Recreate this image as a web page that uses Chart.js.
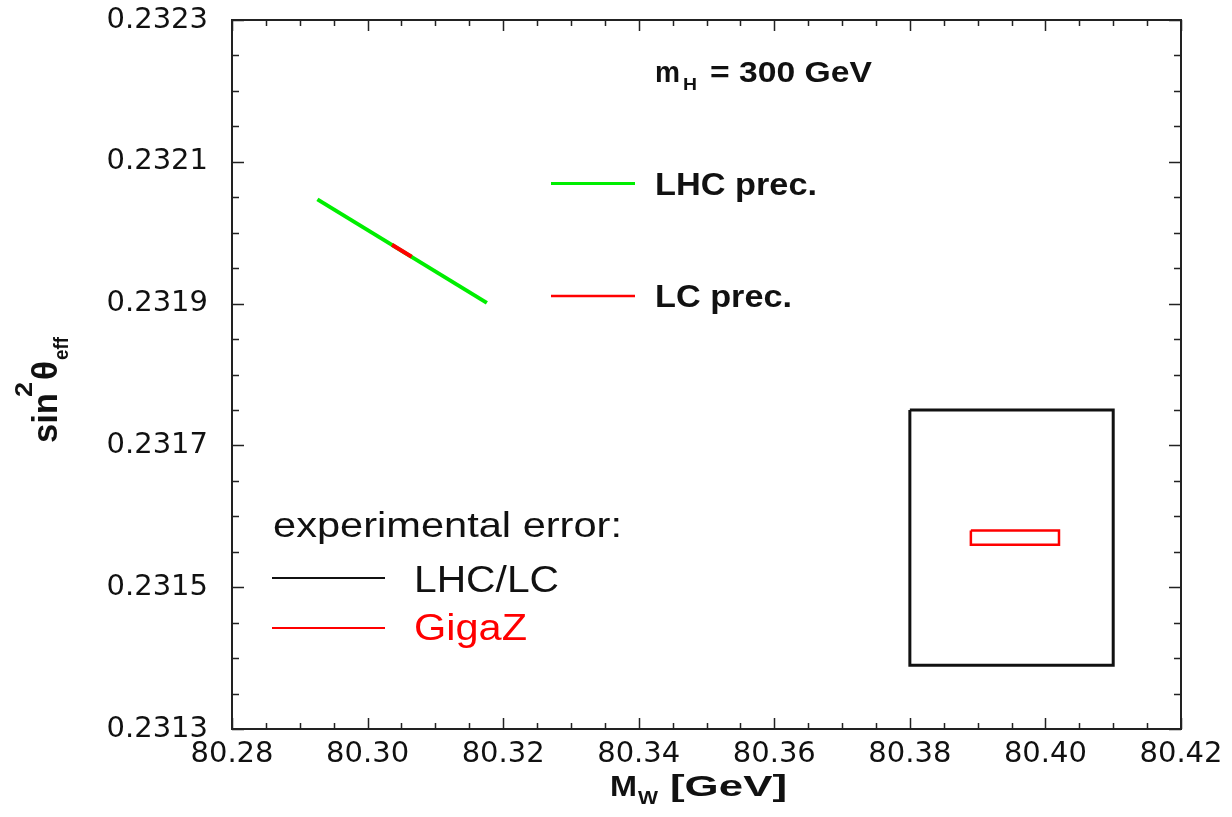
<!DOCTYPE html>
<html>
<head>
<meta charset="utf-8">
<script src="https://cdn.jsdelivr.net/npm/chart.js@4.4.1/dist/chart.umd.min.js"></script>
<style>
  html, body { margin: 0; padding: 0; background: #fff; }
  #wrap { width: 1232px; height: 817px; position: relative; }
</style>
</head>
<body>
<div id="wrap"><canvas id="ewChart"></canvas></div>
<script>
// axis ticks
const xTicks = [80.28, 80.30, 80.32, 80.34, 80.36, 80.38, 80.40, 80.42];
const yTicks = [0.2313, 0.2315, 0.2317, 0.2319, 0.2321, 0.2323];

// LHC precision prediction (M_W vs sin^2 theta_eff)
const lhcMw = [80.2926, 80.3176];
const lhcSin = [0.232047, 0.231901];
// LC precision prediction
const lcMw = [80.3036, 80.3065];
const lcSin = [0.231983, 0.231966];

// experimental error boxes (closed outlines)
const lhcBoxMw = [80.380, 80.410, 80.410, 80.380, 80.380];
const lhcBoxSin = [0.23175, 0.23175, 0.23139, 0.23139, 0.23175];
const gigazBoxMw = [80.389, 80.402, 80.402, 80.389, 80.389];
const gigazBoxSin = [0.23158, 0.23158, 0.23156, 0.23156, 0.23158];

const pts = (xs, ys) => xs.map((x, i) => ({ x: x, y: ys[i] }));

const GREEN = "#00ee00";
const RED = "#ff0000";
const INK = "#111111";

// text squeezed/stretched to a given width
function fitText(ctx, s, x, y, font, color, width) {
  ctx.save();
  ctx.font = font;
  ctx.fillStyle = color;
  ctx.textAlign = "left";
  ctx.textBaseline = "alphabetic";
  const w = ctx.measureText(s).width;
  ctx.translate(x, y);
  ctx.scale(width ? width / w : 1, 1);
  ctx.fillText(s, 0, 0);
  ctx.restore();
}

function seg(ctx, x1, x2, y, color, lw) {
  ctx.save();
  ctx.strokeStyle = color;
  ctx.lineWidth = lw;
  ctx.beginPath();
  ctx.moveTo(x1, y);
  ctx.lineTo(x2, y);
  ctx.stroke();
  ctx.restore();
}

const framePlugin = {
  id: "frame",
  afterDraw(chart) {
    const { ctx, chartArea: a, scales } = chart;
    const xs = scales.x, ys = scales.y;
    ctx.save();
    ctx.strokeStyle = "#222";
    ctx.lineWidth = 2;
    ctx.strokeRect(a.left, a.top, a.right - a.left, a.bottom - a.top);

    // inward ticks on all four sides, 3 minor ticks between majors
    ctx.lineWidth = 1.5;
    ctx.beginPath();
    for (let i = 0; i < xTicks.length; i++) {
      for (let k = 0; k < 4; k++) {
        if (i === xTicks.length - 1 && k > 0) break;
        const v = xTicks[i] + k * 0.005;
        const px = Math.round(xs.getPixelForValue(v)) + 0.5;
        const len = k === 0 ? 11 : 6;
        ctx.moveTo(px, a.bottom); ctx.lineTo(px, a.bottom - len);
        ctx.moveTo(px, a.top); ctx.lineTo(px, a.top + len);
      }
    }
    for (let i = 0; i < yTicks.length; i++) {
      for (let k = 0; k < 4; k++) {
        if (i === yTicks.length - 1 && k > 0) break;
        const v = yTicks[i] + k * 0.00005;
        const py = Math.round(ys.getPixelForValue(v)) + 0.5;
        const len = k === 0 ? 12 : 7;
        ctx.moveTo(a.left, py); ctx.lineTo(a.left + len, py);
        ctx.moveTo(a.right, py); ctx.lineTo(a.right - len, py);
      }
    }
    ctx.stroke();
    ctx.restore();

    // axis titles
    fitText(ctx, "M", 610, 796, "bold 30px 'Liberation Sans'", INK, 27);
    fitText(ctx, "W", 638, 804, "bold 18px 'Liberation Sans'", INK, 20);
    fitText(ctx, "[GeV]", 670, 796, "bold 30px 'Liberation Sans'", INK, 117);

    ctx.save();
    ctx.translate(57, 443);
    ctx.rotate(-Math.PI / 2);
    fitText(ctx, "sin", 0, 0, "bold 35px 'Liberation Sans'", INK, 50);
    fitText(ctx, "2", 46, -25, "bold 24px 'Liberation Sans'", INK, 15);
    fitText(ctx, "\u03b8", 63, 0, "bold 35px 'Liberation Sans'", INK, 19);
    fitText(ctx, "eff", 83, 11, "bold 21px 'Liberation Sans'", INK, 23);
    ctx.restore();

    // annotations
    fitText(ctx, "m", 655, 82, "bold 29px 'Liberation Sans'", INK, 25);
    fitText(ctx, "H", 683, 90, "bold 17px 'Liberation Sans'", INK, 14);
    fitText(ctx, "= 300 GeV", 710, 82, "bold 29px 'Liberation Sans'", INK, 162);

    seg(ctx, 551, 635, 183.5, GREEN, 3);
    fitText(ctx, "LHC prec.", 655, 195, "bold 31px 'Liberation Sans'", INK, 162);
    seg(ctx, 551, 635, 296, RED, 2.5);
    fitText(ctx, "LC prec.", 655, 307, "bold 31px 'Liberation Sans'", INK, 137);

    fitText(ctx, "experimental error:", 273, 537, "35px 'Liberation Sans'", INK, 349);
    seg(ctx, 272, 385, 578, INK, 2);
    fitText(ctx, "LHC/LC", 414, 592, "36px 'Liberation Sans'", INK, 145);
    seg(ctx, 272, 385, 628, RED, 2);
    fitText(ctx, "GigaZ", 414, 640, "36px 'Liberation Sans'", RED, 113);
  }
};

const ctx = document.getElementById("ewChart").getContext("2d");

new Chart(ctx, {
  type: "scatter",
  data: {
    datasets: [
      {
        label: "LHC prec.",
        data: pts(lhcMw, lhcSin),
        showLine: true,
        borderColor: GREEN,
        borderWidth: 4,
        pointRadius: 0,
        order: 3,
      },
      {
        label: "LC prec.",
        data: pts(lcMw, lcSin),
        showLine: true,
        borderColor: RED,
        borderWidth: 4,
        pointRadius: 0,
        order: 2,
      },
      {
        label: "LHC/LC",
        data: pts(lhcBoxMw, lhcBoxSin),
        showLine: true,
        borderColor: INK,
        borderWidth: 3,
        pointRadius: 0,
        borderJoinStyle: "miter",
        order: 1,
      },
      {
        label: "GigaZ",
        data: pts(gigazBoxMw, gigazBoxSin),
        showLine: true,
        borderColor: RED,
        borderWidth: 2.5,
        pointRadius: 0,
        borderJoinStyle: "miter",
        order: 0,
      },
    ],
  },
  options: {
    responsive: true,
    maintainAspectRatio: false,
    animation: false,
    layout: { padding: { top: 20, right: 51, left: 0, bottom: 0 } },
    plugins: {
      legend: { display: false },
      tooltip: { enabled: false },
    },
    scales: {
      x: {
        type: "linear",
        min: 80.28,
        max: 80.42,
        afterBuildTicks: (scale) => { scale.ticks = xTicks.map((v) => ({ value: v })); },
        afterFit: (scale) => {
          scale.height = 88;
          scale.paddingLeft = 0;
          scale.paddingRight = 0;
        },
        grid: { display: false, drawTicks: false },
        border: { display: false },
        ticks: {
          autoSkip: false,
          maxRotation: 0,
          padding: 8,
          color: INK,
          font: { family: "DejaVu Sans", size: 29 },
          callback: (v) => Number(v).toFixed(2),
        },
      },
      y: {
        type: "linear",
        min: 0.2313,
        max: 0.2323,
        afterBuildTicks: (scale) => { scale.ticks = yTicks.map((v) => ({ value: v })); },
        afterFit: (scale) => {
          scale.width = 232;
          scale.paddingTop = 0;
          scale.paddingBottom = 0;
        },
        grid: { display: false, drawTicks: false },
        border: { display: false },
        ticks: {
          autoSkip: false,
          padding: 24,
          color: INK,
          font: { family: "DejaVu Sans", size: 29 },
          callback: (v) => Number(v).toFixed(4),
        },
      },
    },
  },
  plugins: [framePlugin],
});
</script>
</body>
</html>
